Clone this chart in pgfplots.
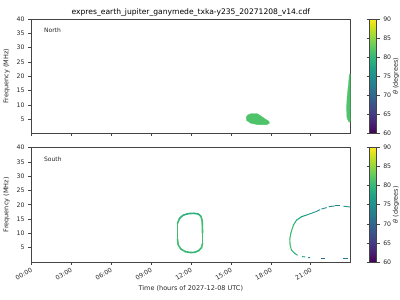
\documentclass[border=0pt]{standalone}
\usepackage{pgfplots}
\pgfplotsset{compat=1.18}
\usepackage{fontspec}
\setmainfont{DejaVu Sans}
\definecolor{vgreen}{HTML}{4FC36A}
\definecolor{spine}{HTML}{444444}
\pgfplotsset{
  base/.style={
    scale only axis, width=319.7pt, height=114.5pt,
    xmin=0, xmax=24, ymin=0, ymax=40,
    xtick={0,3,...,21}, ytick={5,10,...,40},
    xtick pos=lower, ytick pos=left,
    tick align=outside, major tick length=3pt,
    tick style={spine, line width=0.5pt},
    axis line style={spine, line width=0.6pt},
    tick label style={font=\fontsize{6.2}{7}\selectfont, text=black!85},
    label style={font=\fontsize{6.5}{7.5}\selectfont, text=black!85},
    /pgf/number format/assume math mode=true,
    ylabel={Frequency (MHz)},
    colormap/viridis, point meta min=60, point meta max=90,
    colorbar,
    colorbar style={
      at={(parent axis.north east)}, anchor=north west, xshift=10.5pt,
      width=7pt, height=114.5pt, scale only axis,
      ytick={60,65,...,90}, yticklabel pos=right,
      tick align=outside, major tick length=3pt,
      tick style={spine, line width=0.5pt},
      axis line style={spine, line width=0.6pt},
      tick label style={font=\fontsize{6.2}{7}\selectfont, text=black!85},
      ylabel={\textit{θ} (degrees)},
      every axis y label/.style={at={(axis description cs:3.75,0.5)}, rotate=90, anchor=center,
        font=\fontsize{6.5}{7.5}\selectfont, text=black!85},
      /pgf/number format/assume math mode=true,
    },
  }
}
\begin{document}
\begin{tikzpicture}[x=1pt,y=1pt]
\useasboundingbox (0,0) rectangle (400,300);
% ---------------- North ----------------
\begin{axis}[base, at={(31pt,166.5pt)}, anchor=south west,
  xticklabels={},
  title={expres\_earth\_jupiter\_ganymede\_txka-y235\_20271208\_v14.cdf},
  title style={font=\fontsize{7.6}{9}\selectfont, yshift=-6.5pt}]
\addplot[fill=vgreen, draw=vgreen, line width=0.3pt] coordinates {
 (16.15,5.5) (16.25,6.4) (16.5,6.9) (17.0,6.9) (17.3,6.0) (17.6,5.0)
 (17.85,4.3) (17.9,3.6) (17.7,3.1) (17.0,3.1) (16.5,3.6) (16.2,4.5) (16.15,5.5)};
\addplot[fill=vgreen, draw=vgreen, line width=0.3pt] coordinates {
 (23.9,20.7) (23.97,20.7) (23.97,4.0) (23.87,4.0) (23.72,5.5) (23.69,9)
 (23.72,12) (23.78,15) (23.85,18) (23.9,20.7)};
\node[anchor=west, font=\fontsize{6}{7}\selectfont, text=black!85] at (rel axis cs:0.03,0.9) {North};
\end{axis}
% ---------------- South ----------------
\begin{axis}[base, at={(31pt,38pt)}, anchor=south west,
  xticklabels={00:00,03:00,06:00,09:00,12:00,15:00,18:00,21:00},
  xticklabel style={rotate=30, anchor=north east, inner sep=1.5pt},
  xlabel={Time (hours of 2027-12-08 UTC)}]
\addplot[mesh, point meta=explicit, line width=1.6pt, line cap=round] coordinates {
 (11.0,10) [81] (11.0,13.5) [81] (11.15,15.2) [80] (11.4,16.3) [79] (11.8,16.9) [79]
 (12.2,17.0) [79] (12.55,16.8) [79] (12.75,16.0) [80] (12.85,14.5) [81] (12.88,10) [81]
 (12.88,6.5) [81] (12.8,5.0) [81] (12.6,4.0) [80] (12.3,3.4) [80] (12.0,3.3) [80]
 (11.6,3.6) [80] (11.25,4.5) [81] (11.05,6) [81] (11.0,8) [81] (11.0,10) [81]};
% right arc, upper branch
\addplot[mesh, point meta=explicit, line width=1.1pt, line cap=round] coordinates {
 (19.55,4.2) [81] (19.45,6) [81] (19.43,8) [81] (19.5,10) [81] (19.7,12.9) [80]
 (19.93,14.6) [79] (20.3,15.8) [78] (20.68,16.4) [77]};
\addplot[mesh, point meta=explicit, line width=0.9pt] coordinates {
 (20.68,16.4) [77] (21.4,17.6) [75] (21.7,18.3) [74]};
\addplot[mesh, point meta=explicit, line width=0.9pt] coordinates {
 (21.8,18.5) [74] (22.2,19.0) [74]};
\addplot[mesh, point meta=explicit, line width=0.9pt] coordinates {
 (22.35,19.3) [74] (22.8,19.6) [74] (23.2,19.6) [74]};
\addplot[mesh, point meta=explicit, line width=0.9pt] coordinates {
 (23.45,19.5) [75] (23.97,19.2) [76]};
% right arc, lower branch
\addplot[mesh, point meta=explicit, line width=1.0pt, line cap=round] coordinates {
 (19.55,4.2) [81] (19.8,3.0) [79] (20.0,2.4) [78]};
\addplot[mesh, point meta=explicit, line width=0.9pt] coordinates {
 (20.35,1.9) [77] (20.6,1.75) [76]};
\addplot[mesh, point meta=explicit, line width=0.9pt] coordinates {
 (20.8,1.55) [75] (20.95,1.5) [75]};
\addplot[mesh, point meta=explicit, line width=0.9pt] coordinates {
 (21.8,1.3) [70] (22.05,1.3) [70]};
\addplot[mesh, point meta=explicit, line width=0.9pt] coordinates {
 (23.4,1.3) [72] (23.8,1.3) [72]};
\node[anchor=west, font=\fontsize{6}{7}\selectfont, text=black!85] at (rel axis cs:0.03,0.9) {South};
\end{axis}
\end{tikzpicture}
\end{document}
